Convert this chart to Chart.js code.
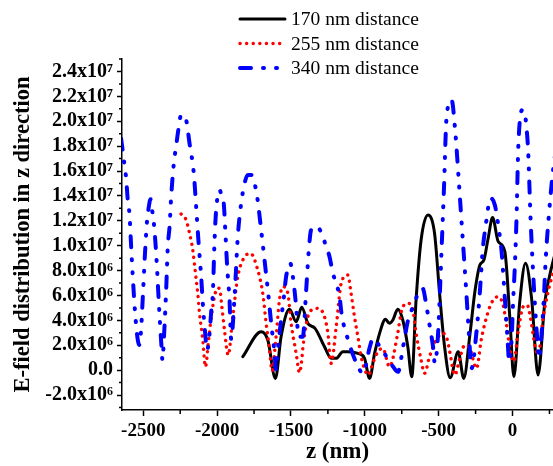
<!DOCTYPE html>
<html>
<head>
<meta charset="utf-8">
<script src="https://cdn.jsdelivr.net/npm/chart.js@4.4.1/dist/chart.umd.min.js"></script>
<style>
html,body{margin:0;padding:0;background:#ffffff;}
canvas{display:block;}
</style>
</head>
<body>
<canvas id="c" width="553" height="466"></canvas>
<script>
// ---------- DATA ----------
const seriesNames = ['170 nm distance', '255 nm distance', '340 nm distance'];

// 170 nm distance (black, solid)
const z170 = [-1826,-1702,-1657,-1605,-1567,-1510,-1465,-1427,-1386,-1337,-1273,-1228,-1194,-1149,-1115,-1047,-1002,-968,-934,-900,-860,-833,-810,-777,-743,-709,-682,-653,-619,-573,-528,-494,-460,-422,-368,-330,-289,-255,-221,-194,-165,-135,-97,-52,-18,9,49,88,129,173,219,271,310];
const e170 = [1.08e6,3.09e6,2.42e6,-0.66e6,2.69e6,4.89e6,3.89e6,5.05e6,3.76e6,3.36e6,1.88e6,0.95e6,0.95e6,1.48e6,1.48e6,1.35e6,0.95e6,-0.66e6,1.35e6,2.96e6,4.09e6,3.76e6,4.03e6,4.89e6,4.03e6,1.88e6,-0.53e6,5.64e6,10.46e6,12.47e6,11.0e6,6.18e6,1.88e6,-0.61e6,1.48e6,-0.66e6,2.82e6,6.30e6,8.45e6,8.85e6,10.6e6,12.26e6,10.33e6,9.52e6,4.17e6,-0.53e6,5.50e6,8.59e6,5.77e6,-0.39e6,5.50e6,8.59e6,10.2e6];

// 255 nm distance (red, dotted)
const z255 = [-2244,-2210,-2187,-2165,-2149,-2131,-2119,-2097,-2079,-2058,-2036,-2013,-1995,-1982,-1968,-1950,-1925,-1894,-1860,-1826,-1774,-1725,-1691,-1668,-1645,-1628,-1601,-1578,-1555,-1521,-1499,-1465,-1442,-1413,-1386,-1350,-1314,-1273,-1250,-1228,-1194,-1160,-1115,-1093,-1070,-1047,-1025,-975,-946,-912,-878,-833,-777,-750,-709,-675,-653,-619,-596,-562,-517,-472,-445,-425,-391,-357,-323,-289,-244,-210,-165,-131,-97,-64,-41,-18,9,38,72,99,122,151,173,207,241,271,320];
const e255 = [12.55e6,12.07e6,11.0e6,9.66e6,8.05e6,6.17e6,4.57e6,2.42e6,0.27e6,2.42e6,4.57e6,6.17e6,6.6e6,6.5e6,5.1e6,3.22e6,1.2e6,4.29e6,7.51e6,8.85e6,9.39e6,8.05e6,6.17e6,3.76e6,1.62e6,-0.05e6,2.69e6,5.64e6,6.71e6,6.17e6,3.76e6,1.35e6,-0.21e6,2.42e6,4.29e6,4.9e6,4.97e6,4.29e6,2.96e6,0.55e6,3.49e6,6.98e6,7.65e6,6.17e6,4.29e6,2.69e6,1.08e6,-0.39e6,0.55e6,1.48e6,1.75e6,0.27e6,2.96e6,4.83e6,5.37e6,4.83e6,2.96e6,0.81e6,-0.26e6,1.08e6,2.42e6,2.96e6,2.58e6,1.48e6,-0.39e6,0.95e6,2.02e6,1.75e6,0.14e6,2.56e6,4.70e6,5.64e6,5.90e6,5.24e6,3.63e6,1.75e6,0.68e6,3.09e6,5.10e6,5.24e6,4.17e6,2.02e6,1.21e6,4.17e6,6.30e6,7.65e6,8.9e6];

// 340 nm distance (blue, dash-dot-dot)
const z340 = [-2650,-2627,-2616,-2605,-2593,-2582,-2571,-2555,-2537,-2525,-2515,-2503,-2487,-2474,-2464,-2451,-2440,-2428,-2410,-2392,-2378,-2370,-2361,-2345,-2334,-2322,-2311,-2293,-2278,-2261,-2244,-2210,-2187,-2158,-2142,-2126,-2108,-2097,-2081,-2068,-2051,-2041,-2029,-2018,-2011,-2000,-1984,-1968,-1955,-1946,-1932,-1916,-1905,-1882,-1860,-1837,-1814,-1792,-1770,-1747,-1729,-1702,-1679,-1652,-1634,-1611,-1601,-1589,-1567,-1548,-1533,-1515,-1505,-1487,-1465,-1449,-1420,-1397,-1381,-1364,-1341,-1318,-1284,-1262,-1239,-1216,-1194,-1171,-1158,-1113,-1056,-1012,-966,-944,-898,-853,-808,-775,-741,-707,-673,-639,-609,-582,-560,-538,-526,-504,-481,-465,-447,-413,-386,-362,-339,-316,-296,-278,-244,-221,-203,-181,-149,-120,-97,-74,-52,-34,-23,-7,4,16,27,38,49,68,83,95,106,122,144,167,180,196,212,225,248,271,293];
const e340 = [18.6e6,16.49e6,15.42e6,13.68e6,12.47e6,9.92e6,7.51e6,4.57e6,2.42e6,2.02e6,3.22e6,5.90e6,9.66e6,12.07e6,13.01e6,13.73e6,12.87e6,11.8e6,8.85e6,4.83e6,2.15e6,0.81e6,2.42e6,6.44e6,9.92e6,11.53e6,13.94e6,16.63e6,17.96e6,19.44e6,20.51e6,20.11e6,18.24e6,15.83e6,13.14e6,10.33e6,7.51e6,5.37e6,2.96e6,1.62e6,2.96e6,4.57e6,6.17e6,10.2e6,12.07e6,13.68e6,14.48e6,13.94e6,13.41e6,11.53e6,8.32e6,5.64e6,2.5e6,5.90e6,10.73e6,13.41e6,15.02e6,15.69e6,15.69e6,15.02e6,13.94e6,11.27e6,8.85e6,5.90e6,3.76e6,1.35e6,0.01e6,1.62e6,4.03e6,5.90e6,7.51e6,8.32e6,8.59e6,7.51e6,5.10e6,2.69e6,2.69e6,6.44e6,9.39e6,11.27e6,11.53e6,11.48e6,10.73e6,9.92e6,9.12e6,7.78e6,6.98e6,5.90e6,4.57e6,2.42e6,0.55e6,-0.26e6,1.88e6,2.56e6,1.88e6,1.08e6,0.27e6,-0.13e6,1.88e6,4.03e6,5.10e6,6.17e6,6.58e6,5.10e6,3.49e6,1.88e6,0.55e6,2.96e6,9.52e6,14.35e6,20.25e6,21.72e6,18.91e6,14.89e6,10.86e6,6.84e6,3.09e6,0.14e6,3.09e6,6.30e6,9.52e6,11.67e6,13.82e6,13.28e6,11.67e6,9.52e6,5.77e6,2.56e6,0.68e6,2.28e6,5.50e6,8.45e6,12.21e6,17.56e6,19.98e6,20.92e6,20.65e6,19.44e6,17.56e6,12.21e6,6.84e6,2.56e6,0.95e6,2.82e6,5.77e6,8.99e6,12.74e6,15.69e6,17.7e6];

// Axis ticks
const xTickValues = [-2500, -2000, -1500, -1000, -500, 0];
const xTickLabels = ['-2500', '-2000', '-1500', '-1000', '-500', '0'];
const xMinorValues = [-2250, -1750, -1250, -750, -250, 250];
const yTickValues = [-2e6, 0, 2e6, 4e6, 6e6, 8e6, 10e6, 12e6, 14e6, 16e6, 18e6, 20e6, 22e6, 24e6];
const yTickLabels = ['-2.0x10\u2076', '0.0', '2.0x10\u2076', '4.0x10\u2076', '6.0x10\u2076', '8.0x10\u2076',
  '1.0x10\u2077', '1.2x10\u2077', '1.4x10\u2077', '1.6x10\u2077', '1.8x10\u2077', '2.0x10\u2077', '2.2x10\u2077', '2.4x10\u2077'];
const yMinorValues = [-3e6, -1e6, 1e6, 3e6, 5e6, 7e6, 9e6, 11e6, 13e6, 15e6, 17e6, 19e6, 21e6, 23e6, 25e6];
const xTitle = 'z (nm)';
const yTitle = 'E-field distribution in z direction';

// ---------- CHART ----------
const toPts = (xs, ys) => xs.map((v, i) => ({ x: v, y: ys[i] }));
const SERIF = '"Liberation Serif", "Times New Roman", serif';

const styles = [
  { borderColor: '#000000', borderWidth: 3, borderDash: [], borderCapStyle: 'round', order: 2 },
  { borderColor: '#ff0000', borderWidth: 3.4, borderDash: [0.1, 6.5], borderCapStyle: 'round', order: 1 },
  { borderColor: '#0000ff', borderWidth: 4, borderDash: [11, 12, 1, 12, 1, 12], borderCapStyle: 'round', order: 0 }
];
const series = [toPts(z170, e170), toPts(z255, e255), toPts(z340, e340)];

const extras = {
  id: 'extras',
  afterDraw(chart) {
    const { ctx, scales: { x, y }, chartArea: a } = chart;
    ctx.save();
    // minor ticks
    ctx.strokeStyle = '#000';
    ctx.lineWidth = 1.5;
    ctx.beginPath();
    xMinorValues.forEach(v => {
      const px = x.getPixelForValue(v);
      if (px >= a.left && px <= a.right) { ctx.moveTo(px, a.bottom); ctx.lineTo(px, a.bottom + 4); }
    });
    yMinorValues.forEach(v => {
      const py = y.getPixelForValue(v);
      if (py >= a.top - 1 && py <= a.bottom + 1) { ctx.moveTo(a.left, py); ctx.lineTo(a.left - 3, py); }
    });
    ctx.stroke();
    // legend
    const rows = [19, 43.5, 68];
    ctx.font = '19.5px ' + SERIF;
    ctx.fillStyle = '#000';
    ctx.textBaseline = 'middle';
    ctx.textAlign = 'left';
    seriesNames.forEach((name, i) => {
      const s = styles[i];
      ctx.beginPath();
      ctx.strokeStyle = s.borderColor;
      ctx.lineWidth = s.borderWidth;
      ctx.lineCap = s.borderCapStyle;
      ctx.setLineDash(s.borderDash);
      ctx.lineDashOffset = 0;
      ctx.moveTo(240, rows[i]);
      ctx.lineTo(285, rows[i]);
      ctx.stroke();
      ctx.setLineDash([]);
      ctx.fillText(name, 291, rows[i] + 1);
    });
    ctx.restore();
  }
};

new Chart(document.getElementById('c'), {
  type: 'line',
  data: {
    datasets: series.map((pts, i) => ({
      label: seriesNames[i],
      data: pts,
      borderColor: styles[i].borderColor,
      borderWidth: styles[i].borderWidth,
      borderDash: styles[i].borderDash,
      borderCapStyle: styles[i].borderCapStyle,
      borderJoinStyle: 'round',
      order: styles[i].order,
      pointRadius: 0,
      fill: false,
      cubicInterpolationMode: 'monotone'
    }))
  },
  options: {
    responsive: false,
    devicePixelRatio: 1,
    animation: false,
    events: [],
    layout: { padding: { top: 59, left: 0, right: 0, bottom: 0 } },
    plugins: { legend: { display: false }, tooltip: { enabled: false }, title: { display: false } },
    scales: {
      x: {
        type: 'linear',
        min: -2644,
        max: 274,
        afterBuildTicks: s => { s.ticks = xTickValues.map(v => ({ value: v })); },
        afterFit: s => { s.height = 56; },
        grid: { display: true, drawOnChartArea: false, drawTicks: true, tickLength: 6, tickColor: '#000', tickWidth: 1.5 },
        border: { display: true, color: '#000', width: 1.5 },
        ticks: {
          color: '#000', padding: 4, maxRotation: 0, autoSkip: false,
          font: { family: SERIF, size: 19, weight: 'bold' },
          callback: (v) => { const k = xTickValues.indexOf(v); return k >= 0 ? xTickLabels[k] : ''; }
        },
        title: { display: true, text: xTitle, color: '#000', font: { family: SERIF, size: 23, weight: 'bold', lineHeight: 1.2 }, padding: { top: 0, bottom: 0 } }
      },
      y: {
        type: 'linear',
        min: -3.2e6,
        max: 25e6,
        afterBuildTicks: s => { s.ticks = yTickValues.map(v => ({ value: v })); },
        afterFit: s => { s.width = 122; },
        grid: { display: true, drawOnChartArea: false, drawTicks: true, tickLength: 5, tickColor: '#000', tickWidth: 1.5 },
        border: { display: true, color: '#000', width: 1.5 },
        ticks: {
          color: '#000', padding: 4, autoSkip: false,
          font: { family: SERIF, size: 20, weight: 'bold' },
          callback: (v) => { const k = yTickValues.indexOf(v); return k >= 0 ? yTickLabels[k] : ''; }
        },
        title: { display: true, text: yTitle, color: '#000', font: { family: SERIF, size: 22.5, weight: 'bold', lineHeight: 1.2 }, padding: { top: 10, bottom: 0 } }
      }
    }
  },
  plugins: [extras]
});
</script>
</body>
</html>
